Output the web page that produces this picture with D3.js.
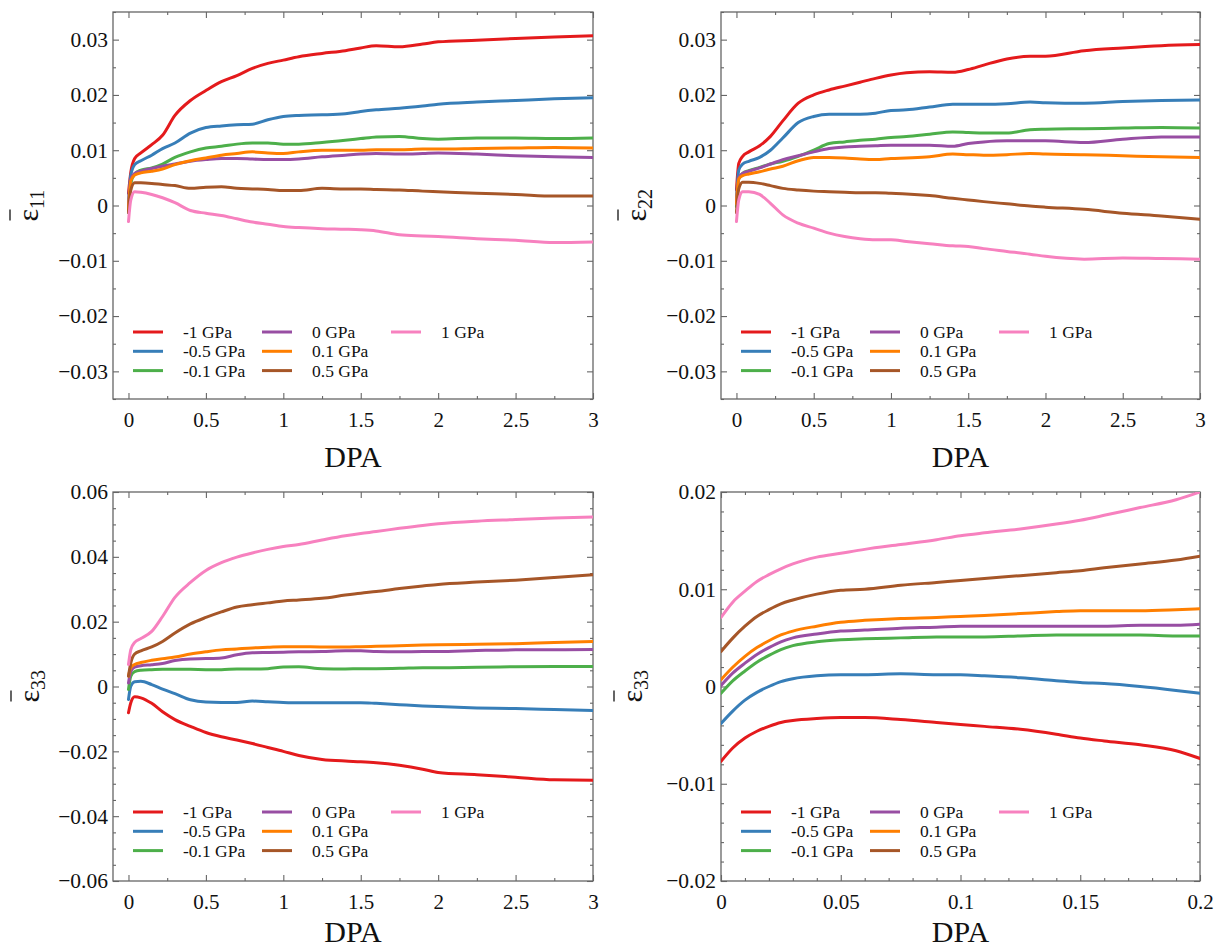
<!DOCTYPE html>
<html>
<head>
<meta charset="utf-8">
<script src="https://cdn.jsdelivr.net/npm/d3@7/dist/d3.min.js"></script>
<style>
  html, body { margin: 0; padding: 0; background: #fff; }
  svg { display: block; }
  svg text { font-family: "Liberation Serif", "Tinos", "Times New Roman", "DejaVu Serif", serif !important; fill: #111; }
</style>
</head>
<body>
<svg id="chart" width="1215" height="950"></svg>
<script>
// ---------------- DATA ----------------
const seriesLabels = ["-1 GPa", "-0.5 GPa", "-0.1 GPa", "0 GPa", "0.1 GPa", "0.5 GPa", "1 GPa"];
const seriesColors = ["#e41a1c", "#377eb8", "#4daf4a", "#984ea3", "#ff7f00", "#a65628", "#f781bf"];

// DPA sample points (0–3 DPA runs, and the 0–0.2 DPA zoom)
const dpaLong  = [0, 0.015, 0.04, 0.08, 0.15, 0.22, 0.3, 0.4, 0.5, 0.6, 0.7, 0.8, 0.9, 1.0, 1.1, 1.25, 1.4, 1.5, 1.6, 1.75, 1.9, 2.0, 2.25, 2.5, 2.75, 3.0];
const dpaShort = [0, 0.005, 0.01, 0.015, 0.02, 0.025, 0.03, 0.04, 0.05, 0.06, 0.075, 0.09, 0.1, 0.11, 0.125, 0.14, 0.15, 0.16, 0.175, 0.19, 0.2];

// strain e11 (order: -1, -0.5, -0.1, 0, 0.1, 0.5, 1 GPa)
const e11 = [
  [0.0022,0.0060,0.0085,0.0095,0.0110,0.0127,0.0163,0.0190,0.0208,0.0224,0.0235,0.0248,0.0257,0.0263,0.0269,0.0275,0.0280,0.0285,0.0289,0.0287,0.0292,0.0296,0.0299,0.0302,0.0305,0.0307],
  [0.0005,0.0055,0.0074,0.0081,0.0091,0.0103,0.0113,0.0131,0.0141,0.0144,0.0146,0.0147,0.0155,0.0161,0.0163,0.0164,0.0166,0.0170,0.0173,0.0176,0.0180,0.0183,0.0187,0.0190,0.0193,0.0195],
  [-0.0013,0.0040,0.0057,0.0064,0.0068,0.0075,0.0087,0.0097,0.0104,0.0107,0.0111,0.0113,0.0113,0.0111,0.0111,0.0114,0.0118,0.0121,0.0124,0.0125,0.0121,0.0120,0.0122,0.0122,0.0121,0.0122],
  [0.0000,0.0048,0.0058,0.0062,0.0067,0.0071,0.0075,0.0080,0.0083,0.0085,0.0085,0.0084,0.0083,0.0083,0.0084,0.0088,0.0091,0.0093,0.0094,0.0093,0.0094,0.0095,0.0093,0.0090,0.0088,0.0087],
  [-0.0007,0.0045,0.0055,0.0059,0.0062,0.0066,0.0074,0.0081,0.0086,0.0091,0.0094,0.0097,0.0095,0.0094,0.0097,0.0100,0.0100,0.0100,0.0101,0.0101,0.0102,0.0102,0.0103,0.0104,0.0105,0.0104],
  [-0.0013,0.0028,0.0041,0.0041,0.0040,0.0038,0.0036,0.0031,0.0033,0.0034,0.0031,0.0030,0.0029,0.0027,0.0027,0.0031,0.0030,0.0030,0.0029,0.0028,0.0026,0.0025,0.0022,0.0020,0.0017,0.0017],
  [-0.0029,0.0010,0.0025,0.0024,0.0020,0.0014,0.0005,-0.0009,-0.0014,-0.0018,-0.0024,-0.0030,-0.0034,-0.0038,-0.0040,-0.0042,-0.0043,-0.0044,-0.0046,-0.0053,-0.0055,-0.0056,-0.0060,-0.0063,-0.0067,-0.0066]
];

// strain e22
const e22 = [
  [0.0028,0.0076,0.0089,0.0097,0.0108,0.0125,0.0153,0.0185,0.0200,0.0209,0.0216,0.0223,0.0230,0.0236,0.0240,0.0242,0.0241,0.0246,0.0254,0.0265,0.0270,0.0270,0.0280,0.0285,0.0289,0.0291],
  [0.0010,0.0064,0.0075,0.0080,0.0087,0.0100,0.0122,0.0150,0.0161,0.0165,0.0165,0.0165,0.0167,0.0172,0.0173,0.0178,0.0183,0.0183,0.0183,0.0184,0.0187,0.0186,0.0185,0.0188,0.0190,0.0191],
  [-0.0002,0.0048,0.0058,0.0063,0.0069,0.0075,0.0080,0.0089,0.0100,0.0112,0.0115,0.0118,0.0120,0.0123,0.0125,0.0129,0.0133,0.0132,0.0131,0.0131,0.0137,0.0138,0.0139,0.0140,0.0141,0.0140],
  [0.0005,0.0050,0.0058,0.0062,0.0068,0.0075,0.0083,0.0090,0.0097,0.0103,0.0106,0.0107,0.0108,0.0109,0.0109,0.0109,0.0107,0.0112,0.0115,0.0117,0.0117,0.0117,0.0114,0.0120,0.0124,0.0124],
  [0.0003,0.0048,0.0054,0.0057,0.0061,0.0066,0.0071,0.0081,0.0087,0.0087,0.0086,0.0084,0.0083,0.0085,0.0086,0.0088,0.0093,0.0092,0.0091,0.0092,0.0094,0.0093,0.0092,0.0090,0.0088,0.0087],
  [-0.0013,0.0030,0.0042,0.0042,0.0040,0.0036,0.0031,0.0028,0.0026,0.0025,0.0024,0.0023,0.0023,0.0022,0.0021,0.0018,0.0013,0.0010,0.0007,0.0003,-0.0001,-0.0003,-0.0007,-0.0014,-0.0019,-0.0025],
  [-0.0029,0.0010,0.0025,0.0025,0.0020,0.0004,-0.0017,-0.0032,-0.0041,-0.0050,-0.0056,-0.0060,-0.0062,-0.0062,-0.0065,-0.0069,-0.0073,-0.0074,-0.0078,-0.0083,-0.0088,-0.0092,-0.0097,-0.0095,-0.0096,-0.0097]
];

// strain e33 (0–3 DPA)
const e33 = [
  [-0.0081,-0.0050,-0.0032,-0.0035,-0.0052,-0.0078,-0.0102,-0.0123,-0.0142,-0.0155,-0.0165,-0.0176,-0.0188,-0.0200,-0.0213,-0.0225,-0.0230,-0.0232,-0.0235,-0.0243,-0.0255,-0.0265,-0.0272,-0.0280,-0.0288,-0.0289],
  [-0.0040,0.0001,0.0015,0.0016,0.0006,-0.0008,-0.0022,-0.0041,-0.0048,-0.0049,-0.0049,-0.0045,-0.0047,-0.0049,-0.0050,-0.0050,-0.0050,-0.0050,-0.0052,-0.0056,-0.0060,-0.0062,-0.0066,-0.0068,-0.0071,-0.0074],
  [-0.0009,0.0032,0.0046,0.0050,0.0052,0.0053,0.0053,0.0053,0.0052,0.0052,0.0054,0.0054,0.0055,0.0060,0.0061,0.0055,0.0054,0.0055,0.0055,0.0056,0.0058,0.0058,0.0059,0.0061,0.0062,0.0062],
  [0.0011,0.0047,0.0060,0.0064,0.0067,0.0071,0.0080,0.0085,0.0086,0.0088,0.0098,0.0104,0.0105,0.0106,0.0107,0.0108,0.0110,0.0110,0.0108,0.0107,0.0108,0.0108,0.0111,0.0113,0.0113,0.0114],
  [0.0032,0.0058,0.0068,0.0074,0.0081,0.0086,0.0091,0.0100,0.0107,0.0113,0.0116,0.0119,0.0121,0.0123,0.0123,0.0122,0.0122,0.0123,0.0124,0.0126,0.0128,0.0129,0.0130,0.0132,0.0136,0.0139],
  [0.0032,0.0073,0.0100,0.0110,0.0122,0.0139,0.0165,0.0193,0.0213,0.0230,0.0245,0.0252,0.0258,0.0264,0.0267,0.0272,0.0282,0.0288,0.0293,0.0302,0.0310,0.0315,0.0322,0.0328,0.0336,0.0345],
  [0.0068,0.0114,0.0136,0.0148,0.0170,0.0216,0.0275,0.0321,0.0358,0.0382,0.0399,0.0412,0.0423,0.0432,0.0438,0.0452,0.0465,0.0472,0.0478,0.0488,0.0497,0.0502,0.0510,0.0515,0.0520,0.0523]
];

// strain e33 (0–0.2 DPA zoom)
const e33early = [
  [-0.0077,-0.0063,-0.0053,-0.0046,-0.0041,-0.0037,-0.0035,-0.0033,-0.0032,-0.0032,-0.0034,-0.0037,-0.0039,-0.0041,-0.0044,-0.0049,-0.0053,-0.0056,-0.0060,-0.0066,-0.0074],
  [-0.0038,-0.0025,-0.0014,-0.0006,0.0000,0.0005,0.0008,0.0011,0.0012,0.0012,0.0013,0.0012,0.0012,0.0011,0.0009,0.0006,0.0004,0.0003,0.0000,-0.0004,-0.0007],
  [-0.0007,0.0006,0.0016,0.0025,0.0032,0.0038,0.0042,0.0046,0.0048,0.0049,0.0050,0.0051,0.0051,0.0051,0.0052,0.0053,0.0053,0.0053,0.0053,0.0052,0.0052],
  [0.0001,0.0014,0.0024,0.0033,0.0040,0.0046,0.0050,0.0054,0.0057,0.0058,0.0060,0.0061,0.0062,0.0062,0.0062,0.0062,0.0062,0.0062,0.0063,0.0063,0.0064],
  [0.0007,0.0020,0.0031,0.0040,0.0047,0.0053,0.0057,0.0062,0.0066,0.0068,0.0070,0.0071,0.0072,0.0073,0.0075,0.0077,0.0078,0.0078,0.0078,0.0079,0.0080],
  [0.0036,0.0050,0.0062,0.0072,0.0079,0.0085,0.0089,0.0095,0.0099,0.0100,0.0104,0.0107,0.0109,0.0111,0.0114,0.0117,0.0119,0.0122,0.0126,0.0130,0.0134],
  [0.0071,0.0087,0.0098,0.0108,0.0115,0.0121,0.0126,0.0133,0.0137,0.0141,0.0146,0.0151,0.0155,0.0158,0.0162,0.0167,0.0171,0.0176,0.0184,0.0192,0.0200]
];

// tick values and labels
const xTicksLong = [0, 0.5, 1, 1.5, 2, 2.5, 3];
const xTickLabelsLong = ["0", "0.5", "1", "1.5", "2", "2.5", "3"];
const xTicksShort = [0, 0.05, 0.1, 0.15, 0.2];
const xTickLabelsShort = ["0", "0.05", "0.1", "0.15", "0.2"];
const yTicks12 = [-0.03, -0.02, -0.01, 0, 0.01, 0.02, 0.03];
const yTickLabels12 = ["\u22120.03", "\u22120.02", "\u22120.01", "0", "0.01", "0.02", "0.03"];
const yTicks3 = [-0.06, -0.04, -0.02, 0, 0.02, 0.04, 0.06];
const yTickLabels3 = ["\u22120.06", "\u22120.04", "\u22120.02", "0", "0.02", "0.04", "0.06"];
const yTicks4 = [-0.02, -0.01, 0, 0.01, 0.02];
const yTickLabels4 = ["\u22120.02", "\u22120.01", "0", "0.01", "0.02"];

// ---------------- LAYOUT ----------------
const FONT = "'Liberation Serif', 'Tinos', 'Times New Roman', 'DejaVu Serif', serif";
const svg = d3.select("#chart");
const panels = [
  { id: "p1", left: 113, top: 12,  right: 593,  bottom: 399, xd: [-0.1, 3], yd: [-0.035, 0.035],
    xs: dpaLong, data: e11, xt: xTicksLong, xl: xTickLabelsLong, xm: 0.25, yt: yTicks12, yl: yTickLabels12, ym: 0.005, sub: "11", labX: 38, dpaY: 467 },
  { id: "p2", left: 721, top: 12,  right: 1200, bottom: 399, xd: [-0.1, 3], yd: [-0.035, 0.035],
    xs: dpaLong, data: e22, xt: xTicksLong, xl: xTickLabelsLong, xm: 0.25, yt: yTicks12, yl: yTickLabels12, ym: 0.005, sub: "22", labX: 646, dpaY: 467 },
  { id: "p3", left: 113, top: 492, right: 593,  bottom: 881, xd: [-0.1, 3], yd: [-0.06, 0.06],
    xs: dpaLong, data: e33, xt: xTicksLong, xl: xTickLabelsLong, xm: 0.25, yt: yTicks3, yl: yTickLabels3, ym: 0.005, sub: "33", labX: 39, dpaY: 942 },
  { id: "p4", left: 721, top: 492, right: 1200, bottom: 881, xd: [0, 0.2], yd: [-0.02, 0.02],
    xs: dpaShort, data: e33early, xt: xTicksShort, xl: xTickLabelsShort, xm: 0.01, yt: yTicks4, yl: yTickLabels4, ym: 0.002, sub: "33", labX: 642, dpaY: 942 }
];

const axisColor = "#666";
const tickFont = 21;

function minorValues(domain, step, majors) {
  const out = [];
  const start = Math.ceil(domain[0] / step - 1e-9);
  const end = Math.floor(domain[1] / step + 1e-9);
  for (let i = start; i <= end; i++) {
    const v = +(i * step).toFixed(6);
    if (!majors.some(m => Math.abs(m - v) < 1e-9)) out.push(v);
  }
  return out;
}

panels.forEach(p => {
  const x = d3.scaleLinear().domain(p.xd).range([p.left, p.right]);
  const y = d3.scaleLinear().domain(p.yd).range([p.bottom, p.top]);
  const g = svg.append("g").attr("font-family", FONT);

  svg.append("clipPath").attr("id", "clip-" + p.id)
    .append("rect").attr("x", p.left).attr("y", p.top)
    .attr("width", p.right - p.left).attr("height", p.bottom - p.top);

  const xMajor = p.xt.filter(v => v >= p.xd[0] - 1e-9 && v <= p.xd[1] + 1e-9);
  const xMinor = minorValues(p.xd, p.xm, xMajor);
  const yMinor = minorValues(p.yd, p.ym, p.yt);

  const styleAxis = sel => {
    sel.attr("font-family", FONT);
    sel.select(".domain").remove();
    sel.selectAll("line").attr("stroke", axisColor).attr("stroke-width", 1.1);
  };

  const bx = g.append("g").attr("transform", `translate(0,${p.bottom})`)
    .call(d3.axisBottom(x).tickValues(xMajor).tickSize(-6).tickPadding(13)
      .tickFormat(d => p.xl[p.xt.indexOf(d)]));
  styleAxis(bx);
  bx.selectAll("text").attr("font-size", tickFont).attr("fill", "#111").attr("dy", "0.71em");
  g.append("g").attr("transform", `translate(0,${p.bottom})`)
    .call(d3.axisBottom(x).tickValues(xMinor).tickSize(-3).tickFormat(""))
    .call(styleAxis);
  g.append("g").attr("transform", `translate(0,${p.top})`)
    .call(d3.axisTop(x).tickValues(xMajor).tickSize(-6).tickFormat("")).call(styleAxis);
  g.append("g").attr("transform", `translate(0,${p.top})`)
    .call(d3.axisTop(x).tickValues(xMinor).tickSize(-3).tickFormat("")).call(styleAxis);

  const ly = g.append("g").attr("transform", `translate(${p.left},0)`)
    .call(d3.axisLeft(y).tickValues(p.yt).tickSize(-6).tickPadding(5)
      .tickFormat(d => p.yl[p.yt.indexOf(d)]));
  styleAxis(ly);
  ly.selectAll("text").attr("font-size", tickFont + 0.5).attr("fill", "#111");
  g.append("g").attr("transform", `translate(${p.left},0)`)
    .call(d3.axisLeft(y).tickValues(yMinor).tickSize(-3).tickFormat("")).call(styleAxis);
  g.append("g").attr("transform", `translate(${p.right},0)`)
    .call(d3.axisRight(y).tickValues(p.yt).tickSize(-6).tickFormat("")).call(styleAxis);
  g.append("g").attr("transform", `translate(${p.right},0)`)
    .call(d3.axisRight(y).tickValues(yMinor).tickSize(-3).tickFormat("")).call(styleAxis);

  g.append("rect").attr("x", p.left).attr("y", p.top)
    .attr("width", p.right - p.left).attr("height", p.bottom - p.top)
    .attr("fill", "none").attr("stroke", axisColor).attr("stroke-width", 1.3);

  const line = d3.line().x(d => x(d[0])).y(d => y(d[1])).curve(d3.curveMonotoneX);
  const lg = g.append("g").attr("clip-path", `url(#clip-${p.id})`);
  p.data.forEach((vals, i) => {
    lg.append("path")
      .datum(p.xs.map((xv, j) => [xv, vals[j]]))
      .attr("d", line)
      .attr("fill", "none")
      .attr("stroke", seriesColors[i])
      .attr("stroke-width", 3)
      .attr("stroke-linejoin", "round")
      .attr("stroke-linecap", "round");
  });

  const leg = g.append("g");
  seriesLabels.forEach((lab, i) => {
    const col = Math.floor(i / 3), row = i % 3;
    const lx = p.left + 20 + col * 129;
    const lyy = p.top + 320 + row * 19.3;
    leg.append("line").attr("x1", lx).attr("x2", lx + 30).attr("y1", lyy).attr("y2", lyy)
      .attr("stroke", seriesColors[i]).attr("stroke-width", 3);
    leg.append("text").attr("x", lx + 50).attr("y", lyy).attr("dy", "0.35em")
      .attr("font-size", 17.5).text(lab);
  });

  g.append("text").attr("x", (p.left + p.right) / 2).attr("y", p.dpaY)
    .attr("text-anchor", "middle").attr("font-size", 30).text("DPA");

  const cy = (p.top + p.bottom) / 2;
  const ylab = g.append("g").attr("transform", `translate(${p.labX},${cy + 16}) rotate(-90)`);
  const t = ylab.append("text").attr("x", 0).attr("y", 0).attr("font-size", 30);
  t.append("tspan").text("\u03B5");
  t.append("tspan").attr("font-size", 20).attr("dy", 6).text(p.sub);
  ylab.append("line").attr("x1", 1).attr("x2", 12).attr("y1", -28).attr("y2", -28)
    .attr("stroke", "#111").attr("stroke-width", 1.3);
});
</script>
</body>
</html>
